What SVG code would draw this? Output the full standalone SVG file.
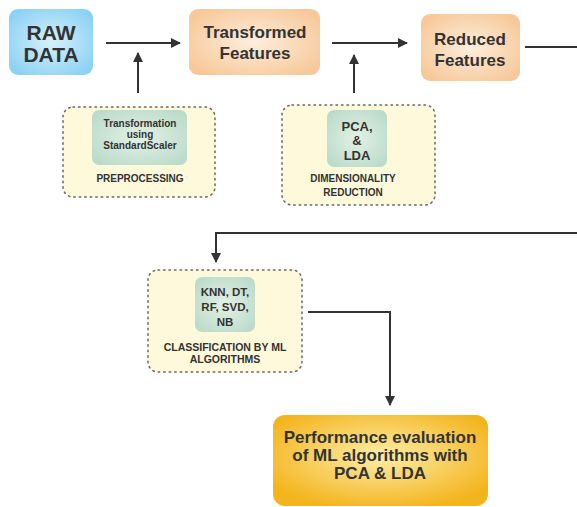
<svg xmlns="http://www.w3.org/2000/svg" width="577" height="507" viewBox="0 0 577 507">
<defs>
<radialGradient id="gBlue" cx="50%" cy="50%" r="60%"><stop offset="0" stop-color="#d6f1fd"/><stop offset="1" stop-color="#8dd2f3"/></radialGradient>
<radialGradient id="gOrange" cx="50%" cy="50%" r="60%"><stop offset="0" stop-color="#fdeedd"/><stop offset="1" stop-color="#f7c99a"/></radialGradient>
<radialGradient id="gGreen" cx="50%" cy="50%" r="60%"><stop offset="0" stop-color="#e4f1e4"/><stop offset="1" stop-color="#bcdccb"/></radialGradient>
<radialGradient id="gGold" cx="50%" cy="45%" r="60%"><stop offset="0" stop-color="#fdeea8"/><stop offset="1" stop-color="#f4b41e"/></radialGradient>
<marker id="arr" viewBox="0 0 10 10" refX="9" refY="5" markerWidth="10" markerHeight="10" markerUnits="userSpaceOnUse" orient="auto"><path d="M0,0 L10,5 L0,10 z" fill="#333"/></marker>
</defs>
<style>
text{font-family:"Liberation Sans",Arial,sans-serif;font-weight:bold;fill:#333;text-anchor:middle}
.big{font-size:21px}
.mid{font-size:17px}
.sm{font-size:10px}
.cl{font-size:10.5px}
.kn{font-size:11.5px}
.md{font-size:13px}
.dot{fill:#fdf9da;stroke:#666;stroke-width:1.5;stroke-dasharray:1.5 4;stroke-linecap:round}
.line{fill:none;stroke:#333;stroke-width:2}
</style>
<rect width="577" height="507" fill="#fff"/>
<g id="connectors">
<line class="line" x1="106" y1="43" x2="180" y2="43" marker-end="url(#arr)"/>
<line class="line" x1="138" y1="93" x2="138" y2="53" marker-end="url(#arr)"/>
<line class="line" x1="332" y1="43" x2="407" y2="43" marker-end="url(#arr)"/>
<line class="line" x1="354" y1="93" x2="354" y2="55" marker-end="url(#arr)"/>
<line class="line" x1="525" y1="47" x2="577" y2="47"/>
<polyline class="line" points="577,233 216,233 216,262" marker-end="url(#arr)"/>
<polyline class="line" points="308,312 390,312 390,405" marker-end="url(#arr)"/>
</g>
<g id="raw-data">
<rect x="9" y="9" width="84" height="66" rx="9" fill="url(#gBlue)"/>
<text class="big" x="51" y="40">RAW</text>
<text class="big" x="51" y="62">DATA</text>
</g>
<g id="transformed-features">
<rect x="189" y="9" width="131" height="66" rx="9" fill="url(#gOrange)"/>
<text class="mid" x="255" y="38">Transformed</text>
<text class="mid" x="255" y="59">Features</text>
</g>
<g id="reduced-features">
<rect x="421" y="14" width="99" height="67" rx="9" fill="url(#gOrange)"/>
<text class="mid" x="470" y="45">Reduced</text>
<text class="mid" x="470" y="66">Features</text>
</g>
<g id="preprocessing">
<rect class="dot" x="63" y="107" width="152" height="90" rx="10"/>
<rect x="92" y="110" width="95" height="55" rx="7" fill="url(#gGreen)"/>
<text class="sm" x="140" y="127">Transformation</text>
<text class="sm" x="140" y="138">using</text>
<text class="sm" x="140" y="149">StandardScaler</text>
<text class="sm" x="140" y="182">PREPROCESSING</text>
</g>
<g id="dimensionality-reduction">
<rect class="dot" x="282" y="105" width="153" height="100" rx="10"/>
<rect x="327" y="110" width="60" height="57" rx="7" fill="url(#gGreen)"/>
<text class="md" x="357" y="131">PCA,</text>
<text class="md" x="357" y="145">&amp;</text>
<text class="md" x="357" y="160">LDA</text>
<text class="sm" x="353" y="182">DIMENSIONALITY</text>
<text class="sm" x="353" y="196">REDUCTION</text>
</g>
<g id="classification">
<rect class="dot" x="148" y="270" width="154" height="102" rx="10"/>
<rect x="195" y="277" width="60" height="55" rx="7" fill="url(#gGreen)"/>
<text class="kn" x="225" y="296">KNN, DT,</text>
<text class="kn" x="225" y="311">RF, SVD,</text>
<text class="kn" x="225" y="326">NB</text>
<text class="cl" x="225" y="351">CLASSIFICATION BY ML</text>
<text class="cl" x="225" y="363">ALGORITHMS</text>
</g>
<g id="performance">
<rect x="273" y="415" width="215" height="91" rx="12" fill="url(#gGold)"/>
<text class="mid" x="380" y="443">Performance evaluation</text>
<text class="mid" x="380" y="461">of ML algorithms with</text>
<text class="mid" x="380" y="479">PCA &amp; LDA</text>
</g>
</svg>
